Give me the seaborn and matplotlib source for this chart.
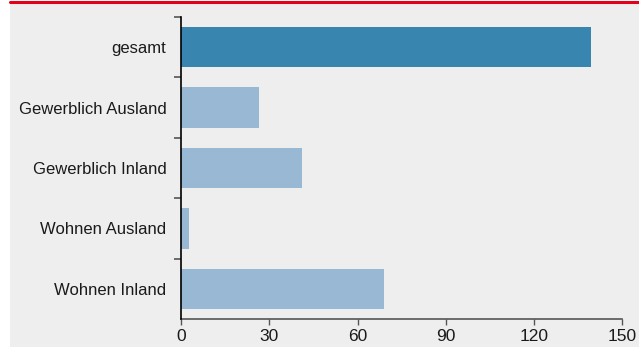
import matplotlib
matplotlib.use("Agg")
import matplotlib.pyplot as plt
import seaborn as sns
import pandas as pd
from matplotlib.patches import Rectangle
from matplotlib.lines import Line2D

categories = ["gesamt", "Gewerblich Ausland", "Gewerblich Inland", "Wohnen Ausland", "Wohnen Inland"]
values = [139.3, 26.4, 41.2, 2.6, 69.0]
x_ticks = [0, 30, 60, 90, 120, 150]
colors = ["#3886b0", "#98b8d3", "#98b8d3", "#98b8d3", "#98b8d3"]

sns.set_theme(style="white")
plt.rcParams["font.family"] = ["Liberation Sans", "DejaVu Sans"]

W, H = 639, 347
fig = plt.figure(figsize=(W / 100, H / 100), dpi=100, facecolor="white")
fig.patches.append(Rectangle((10 / W, 0), 1 - 10 / W, 1 - 4 / H, transform=fig.transFigure,
                             facecolor="#eeeeee", edgecolor="none", zorder=-10))
fig.lines.append(Line2D([10 / W, 1], [1 - 2 / H, 1 - 2 / H], transform=fig.transFigure,
                        color="#e2001a", linewidth=2.2))

ax = fig.add_axes([181.3 / W, 1 - 319 / H, (622 - 181.3) / W, (319 - 17) / H])
ax.set_facecolor("none")

df = pd.DataFrame({"cat": categories, "val": values})
sns.barplot(data=df, y="cat", x="val", hue="cat", palette=colors, legend=False,
            orient="h", width=2 / 3, ax=ax, saturation=1, linewidth=0, edgecolor="none")

ax.set_xlim(0, 150)
ax.set_ylim(4.5, -0.5)
ax.set_xticks(x_ticks)
ax.set_xticklabels([str(t) for t in x_ticks], fontsize=12.5, color="#1a1a1a")
ax.set_xlabel("")
ax.set_ylabel("")

ax.set_yticks(range(len(categories)))
ax.set_yticklabels(categories, fontsize=12, color="#1a1a1a")
ax.tick_params(axis="y", which="major", left=True, length=0, pad=10.8)
ax.set_yticks([-0.5, 0.5, 1.5, 2.5, 3.5], minor=True)
ax.tick_params(axis="y", which="minor", left=True, length=5, width=1.2, color="#555555", direction="out")
ax.tick_params(axis="x", which="major", bottom=True, length=4, width=1, color="#555555", direction="out", pad=3)

for s in ["top", "right"]:
    ax.spines[s].set_visible(False)
ax.spines["left"].set_color("#000000")
ax.spines["left"].set_linewidth(1.2)
ax.spines["bottom"].set_color("#555555")
ax.spines["bottom"].set_linewidth(1.2)
ax.spines["left"].set_zorder(5)

fig.savefig("out.png", dpi=100, facecolor=fig.get_facecolor())
